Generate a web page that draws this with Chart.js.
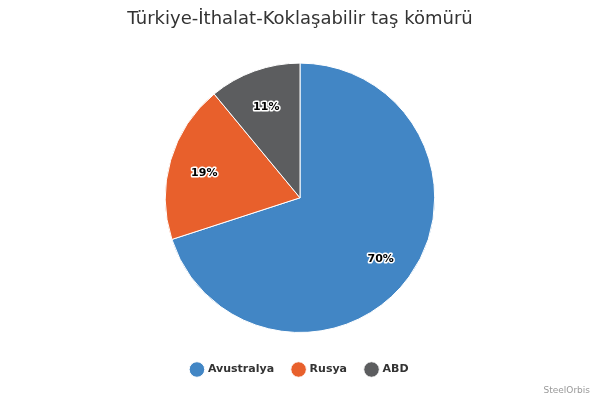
<!DOCTYPE html>
<html>
<head>
<meta charset="utf-8">
<script src="https://cdn.jsdelivr.net/npm/chart.js@4.4.0/dist/chart.umd.min.js"></script>
<style>
  html, body { margin: 0; padding: 0; background: #fff; }
  #wrap { width: 600px; height: 400px; }
</style>
</head>
<body>
<div id="wrap"><canvas id="chart"></canvas></div>
<script>
// Data
const countries = ['Avustralya', 'Rusya', 'ABD'];
const shares = [70, 19, 11];
const sliceColors = ['#4286C5', '#E8602C', '#5C5D5F'];

// Extra space above the legend row (Chart.js has no legend margin option)
const LEGEND_GAP = 12;
const legendGap = {
    id: 'legendGap',
    beforeLayout(chart) {
        const legend = chart.legend;
        if (legend && !legend._gapPatched) {
            const fit = legend.fit;
            legend.fit = function () {
                fit.call(this);
                this.height += LEGEND_GAP;
            };
            legend._gapPatched = true;
        }
    },
    afterLayout(chart) {
        // push the legend items down into the reserved gap
        chart.legend.top += LEGEND_GAP;
        chart.legend.bottom += LEGEND_GAP;
    }
};

// Percent labels drawn inside the slices
const sliceLabels = {
    id: 'sliceLabels',
    afterDatasetsDraw(chart) {
        const ctx = chart.ctx;
        const meta = chart.getDatasetMeta(0);
        ctx.save();
        ctx.font = 'bold 11px "DejaVu Sans", sans-serif';
        ctx.textAlign = 'center';
        ctx.textBaseline = 'middle';
        ctx.lineJoin = 'round';
        meta.data.forEach((arc, i) => {
            const p = arc.getProps(['x', 'y', 'startAngle', 'endAngle', 'outerRadius']);
            const mid = (p.startAngle + p.endAngle) / 2;
            const r = p.outerRadius * 0.74;
            const x = p.x + Math.cos(mid) * r;
            const y = p.y + Math.sin(mid) * r + 3;
            const txt = shares[i] + '%';
            ctx.strokeStyle = '#fff';
            ctx.lineWidth = 3;
            ctx.strokeText(txt, x, y);
            ctx.fillStyle = '#000';
            ctx.fillText(txt, x, y);
        });
        ctx.restore();
    }
};

// Credit text bottom right
const credits = {
    id: 'credits',
    afterDraw(chart) {
        const ctx = chart.ctx;
        ctx.save();
        ctx.font = '9px "DejaVu Sans", sans-serif';
        ctx.fillStyle = '#999';
        ctx.textAlign = 'right';
        ctx.textBaseline = 'middle';
        ctx.fillText('SteelOrbis', 590, 391);
        ctx.restore();
    }
};

const ctx = document.getElementById('chart').getContext('2d');
const chart = new Chart(ctx, {
    type: 'pie',
    data: {
        labels: countries,
        datasets: [{
            data: shares,
            backgroundColor: sliceColors,
            borderColor: '#fff',
            borderWidth: 1,
            hoverOffset: 0
        }]
    },
    options: {
        responsive: true,
        maintainAspectRatio: false,
        animation: false,
        layout: { padding: { bottom: 15 } },
        plugins: {
            title: {
                display: true,
                text: 'Türkiye-İthalat-Koklaşabilir taş kömürü',
                color: '#333',
                font: { family: '"DejaVu Sans", sans-serif', size: 18, weight: 'normal' },
                padding: { top: 9, bottom: 32 }
            },
            legend: {
                position: 'bottom',
                labels: {
                    usePointStyle: true,
                    pointStyle: 'circle',
                    boxWidth: 11,
                    boxHeight: 11,
                    padding: 19,
                    color: '#333',
                    font: { family: '"DejaVu Sans", sans-serif', size: 11, weight: 'bold' }
                }
            },
            tooltip: { enabled: false }
        }
    },
    plugins: [legendGap, sliceLabels, credits]
});
</script>
</body>
</html>
